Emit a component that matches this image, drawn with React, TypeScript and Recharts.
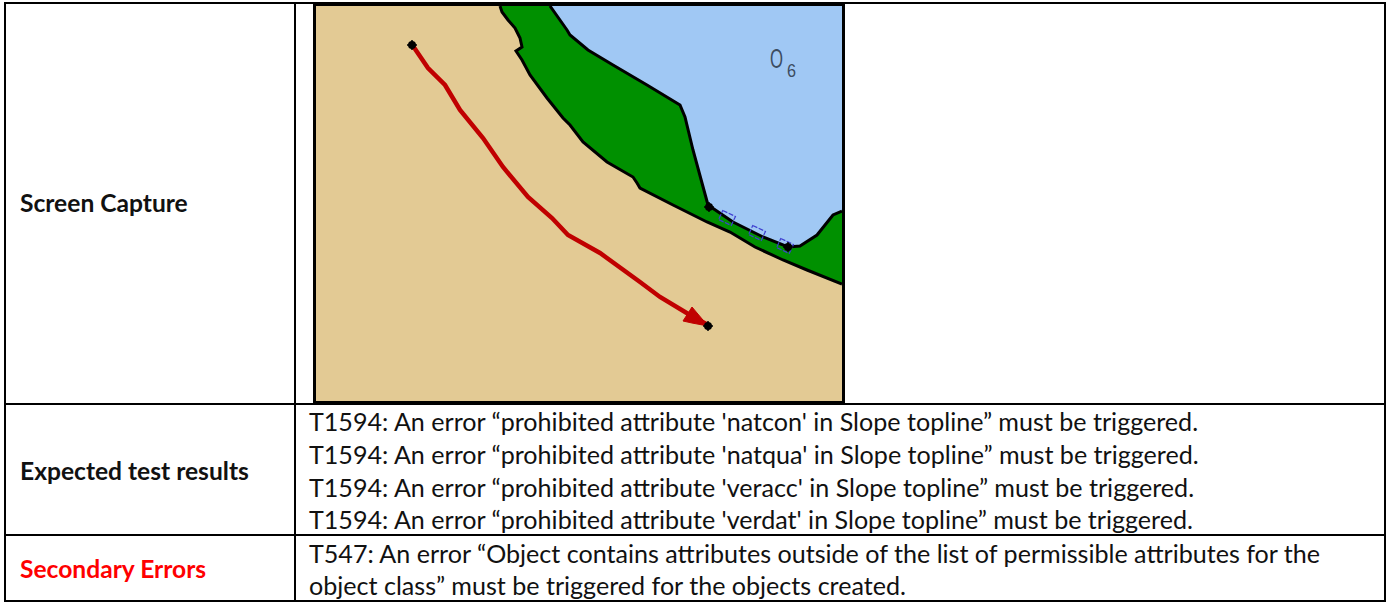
import React from "react";
import { Area, ComposedChart, Line, ReferenceDot, Scatter, XAxis, YAxis } from "recharts";

// map readings, x/y measured from the top-left corner of the capture
const shoreX = [184, 186, 192, 199, 204, 206, 200, 206, 214, 231, 247, 254, 267, 291, 317, 321, 324, 357, 391, 414, 439, 467, 491, 526];
const shoreY = [0, 6, 14, 22, 32, 41, 45, 54, 69, 92, 112, 119, 136, 156, 171, 177, 182, 199, 216, 226, 241, 254, 264, 278];
const coastX = [234, 251, 254, 272, 297, 331, 364, 369, 377, 386, 392, 417, 447, 472, 484, 501, 517, 526];
const coastY = [0, 24, 29, 44, 59, 79, 99, 111, 144, 177, 199, 216, 231, 241, 240, 229, 209, 205];
const routeX = [97, 112, 129, 144, 167, 187, 212, 236, 252, 284, 324, 344, 374, 392];
const routeY = [40, 62, 79, 104, 132, 161, 191, 212, 229, 247, 276, 291, 309, 319];
const arrowX = [367, 376, 392];
const arrowTop = [315, 301, 320];
const arrowBottom = [315, 317, 320];
const nodeX = [96, 392, 393, 472];
const nodeY = [39, 320, 201, 241];
const markX = [411, 441, 469];
const markY = [212, 227, 240];

const screenLabel = "Screen Capture";
const expectedLabel = "Expected test results";
const secondaryLabel = "Secondary Errors";
const expectedLines = [
  "T1594: An error “prohibited attribute 'natcon' in Slope topline” must be triggered.",
  "T1594: An error “prohibited attribute 'natqua' in Slope topline” must be triggered.",
  "T1594: An error “prohibited attribute 'veracc' in Slope topline” must be triggered.",
  "T1594: An error “prohibited attribute 'verdat' in Slope topline” must be triggered.",
];
const expectedBaselines = [430, 463, 496, 528];
const secondaryLines = [
  "T547: An error “Object contains attributes outside of the list of permissible attributes for the",
  "object class” must be triggered for the objects created.",
];
const secondaryBaselines = [562, 594];

const zip = (xs: number[], ys: number[]) => xs.map((x, i) => ({ x, y: ys[i] }));
const shore = zip(shoreX, shoreY);
const coast = zip(coastX, coastY);
const route = zip(routeX, routeY);
const nodes = zip(nodeX, nodeY);
const marks = zip(markX, markY);
const arrow = arrowX.map((x, i) => ({ x, range: [arrowTop[i], arrowBottom[i]] }));

const font = "Lato, sans-serif";

function Rule({ left, top, width, height }: { left: number; top: number; width: number; height: number }) {
  return <div style={{ position: "absolute", left, top, width, height, background: "#000" }} />;
}

function TextAt({ left, baseline, bold, color, children }: { left: number; baseline: number; bold?: boolean; color?: string; children: React.ReactNode }) {
  return (
    <div
      style={{
        position: "absolute",
        left,
        top: baseline - 24,
        height: 30,
        lineHeight: "30px",
        fontFamily: font,
        fontSize: bold ? 24.6 : 25.1,
        fontWeight: bold ? 700 : 400,
        color: color || "#111",
        whiteSpace: "nowrap",
      }}
    >
      {children}
    </div>
  );
}

function NodeDot(props: any) {
  const { cx, cy } = props;
  return (
    <g>
      <circle cx={cx} cy={cy} r={4} fill="#000" />
      <path d={`M${cx - 5} ${cy}H${cx + 5}M${cx} ${cy - 5}V${cy + 5}`} stroke="#000" strokeWidth={1.5} />
    </g>
  );
}

function SlopeMark(props: any) {
  const { cx, cy } = props;
  return (
    <g transform={`rotate(25 ${cx} ${cy})`} fill="none" stroke="#3f3fd0" strokeWidth={1.2} strokeDasharray="5 1.5">
      <rect x={cx - 7} y={cy - 5} width={14} height={10} />
    </g>
  );
}

function ZoneLabel(props: any) {
  const { x, y } = props.viewBox;
  return (
    <g fill="#3c4c60" fontFamily="Liberation Sans, sans-serif">
      <text transform={`translate(${x} ${y}) scale(0.62 1)`} fontSize={27}>O</text>
      <text transform={`translate(${x + 17} ${y + 9}) scale(0.9 1)`} fontSize={18}>6</text>
    </g>
  );
}

export default function App() {
  return (
    <div style={{ position: "absolute", left: 0, top: 0, width: 1390, height: 602, background: "#fff", overflow: "hidden" }}>
      <Rule left={4} top={2} width={2} height={600} />
      <Rule left={1384} top={2} width={2} height={600} />
      <Rule left={4} top={2} width={1382} height={2} />
      <Rule left={4} top={403} width={1382} height={2} />
      <Rule left={4} top={534} width={1382} height={2} />
      <Rule left={4} top={600} width={1382} height={2} />
      <Rule left={294} top={2} width={2} height={600} />

      <TextAt left={20} baseline={212} bold>{screenLabel}</TextAt>
      <TextAt left={20} baseline={480} bold>{expectedLabel}</TextAt>
      <TextAt left={20} baseline={578} bold color="#ff0000">{secondaryLabel}</TextAt>
      {expectedLines.map((line, i) => (
        <TextAt key={line} left={309} baseline={expectedBaselines[i]}>{line}</TextAt>
      ))}
      {secondaryLines.map((line, i) => (
        <TextAt key={line} left={309} baseline={secondaryBaselines[i]}>{line}</TextAt>
      ))}

      <div style={{ position: "absolute", left: 313, top: 2, width: 526, height: 395, border: "solid #000", borderWidth: "4px 3px 2px 3px", background: "#e3ca94" }}>
        <ComposedChart width={526} height={395} margin={{ top: 0, right: 0, bottom: 0, left: 0 }}>
          <XAxis dataKey="x" type="number" domain={[0, 526]} hide />
          <YAxis dataKey="y" type="number" domain={[0, 395]} reversed hide />
          <Area data={shore} dataKey="y" type="linear" baseValue={0} fill="#009000" fillOpacity={1} stroke="#000" strokeWidth={3} dot={false} activeDot={false} isAnimationActive={false} />
          <Area data={coast} dataKey="y" type="linear" baseValue={0} fill="#a0c8f4" fillOpacity={1} stroke="#000" strokeWidth={3} dot={false} activeDot={false} isAnimationActive={false} />
          <Scatter data={marks} shape={SlopeMark} isAnimationActive={false} />
          <Scatter data={nodes} shape={NodeDot} isAnimationActive={false} />
          <Line data={route} dataKey="y" type="linear" stroke="#c00000" strokeWidth={4.5} dot={false} activeDot={false} isAnimationActive={false} />
          <Area data={arrow} dataKey="range" type="linear" fill="#c00000" fillOpacity={1} stroke="#c00000" strokeWidth={1} dot={false} activeDot={false} isAnimationActive={false} />
          <ReferenceDot x={454} y={62} r={0} fill="none" stroke="none" label={<ZoneLabel />} />
        </ComposedChart>
      </div>
    </div>
  );
}
